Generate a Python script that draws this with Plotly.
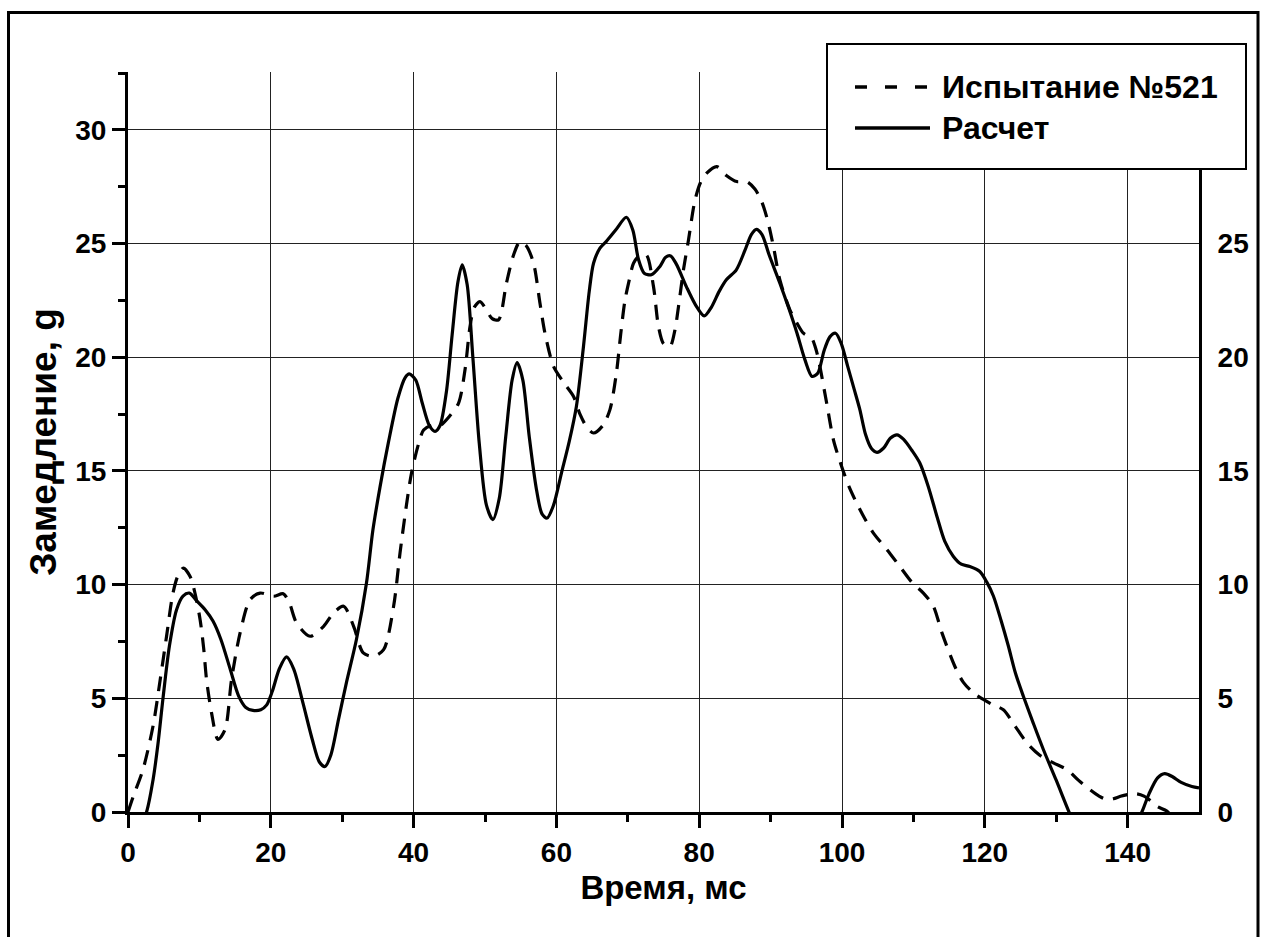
import plotly.graph_objects as go

# ---- data ----
calc_t = [1.0, 2.6, 3.5, 4.2, 4.9, 5.8, 6.8, 7.7, 8.6, 9.6, 10.8, 11.9, 13.0, 14.3, 15.5, 16.5, 17.5, 18.6,
          19.4, 20.2, 21.2, 22.2, 23.2, 24.5, 25.8, 26.8, 27.6, 28.4, 29.5, 30.6, 32.0, 33.4, 34.3, 35.3,
          36.5, 37.8, 38.8, 39.4, 40.3, 41.2, 42.2, 43.0, 43.7, 44.6, 45.4, 46.2, 46.8, 47.5, 48.3, 49.2,
          50.2, 51.1, 52.0, 52.9, 53.8, 54.5, 55.3, 56.2, 57.2, 58.0, 58.7, 59.6, 60.7, 61.8, 62.8, 63.8,
          64.6, 65.2, 66.1, 67.0, 68.3, 69.8, 70.7, 71.5, 72.3, 73.3, 74.5, 75.3, 76.0, 76.8, 78.2, 79.5,
          80.7, 81.7, 82.8, 83.8, 85.2, 86.4, 87.3, 88.0, 88.8, 89.8, 91.3, 92.5, 93.7, 94.8, 95.8, 96.6,
          97.5, 98.3, 99.1, 99.9, 100.8, 101.7, 102.5, 103.3, 104.1, 104.9, 105.8, 106.8, 107.7, 108.6,
          109.8, 110.9, 112.1, 113.3, 114.4, 115.6, 116.7, 117.9, 119.3, 120.3, 121.2, 122.3, 123.3,
          124.3, 125.4, 126.8, 128.2, 130.0, 131.8, 133.5, 136.0, 139.0, 141.0, 142.0, 143.0, 144.2,
          145.2, 146.3, 147.5, 149.0, 150.0]
calc_g = [-1.2, 0.0, 1.4, 3.0, 5.0, 7.3, 8.9, 9.5, 9.63, 9.3, 8.9, 8.4, 7.6, 6.3, 5.1, 4.6, 4.47, 4.5,
          4.7, 5.3, 6.3, 6.82, 6.3, 4.8, 3.2, 2.2, 2.0, 2.5, 4.1, 5.7, 7.6, 10.07, 12.4, 14.3,
          16.3, 18.2, 19.1, 19.27, 19.0, 18.0, 17.0, 16.74, 17.0, 18.5, 21.0, 23.3, 24.07, 23.2, 20.0, 16.2,
          13.5, 12.86, 13.8, 16.5, 19.0, 19.77, 19.0, 16.5, 14.2, 13.1, 12.93, 13.5, 14.9, 16.3, 17.84, 20.5,
          22.9, 24.14, 24.8, 25.1, 25.6, 26.16, 25.6, 24.3, 23.7, 23.63, 24.0, 24.4, 24.46, 24.1, 23.11, 22.3,
          21.82, 22.2, 22.9, 23.41, 23.85, 24.7, 25.4, 25.63, 25.4, 24.5, 23.26, 22.2, 21.06, 19.9, 19.16, 19.3,
          20.3, 20.9, 21.06, 20.6, 19.6, 18.6, 17.7, 16.6, 16.0, 15.82, 16.0, 16.45, 16.59, 16.4,
          15.9, 15.35, 14.3, 13.0, 11.9, 11.24, 10.9, 10.8, 10.58, 10.1, 9.5, 8.4, 7.3,
          6.1, 5.09, 3.9, 2.75, 1.4, 0.0, -1.2, -2.0, -1.5, -0.6, 0.0, 0.8, 1.5,
          1.69, 1.55, 1.3, 1.12, 1.06]

test_t = [0.0, 0.75, 2.1, 3.5, 4.5, 5.4, 6.3, 7.0, 7.75, 8.7, 9.4, 10.1, 10.6, 11.0, 11.7, 12.6, 13.6,
          14.5, 15.7, 17.1, 18.5, 20.4, 21.75, 22.6, 23.6, 25.5, 27.4, 28.8, 30.2, 31.6, 32.95, 34.4,
          35.8, 37.2, 38.1, 39.0, 39.7, 40.7, 41.4, 42.5, 43.7, 45.0, 46.3, 47.2, 47.9, 48.5, 49.3, 50.2,
          51.0, 51.9, 53.0, 54.0, 54.9, 55.8, 56.8, 57.7, 58.4, 59.6, 61.0, 62.4, 63.3, 64.2, 65.2, 66.5,
          67.5, 68.4, 69.0, 69.6, 70.2, 70.8, 71.7, 72.6, 73.6, 74.3, 75.0, 75.9, 76.6, 77.1, 77.8, 78.5,
          79.4, 80.2, 81.05, 82.45, 83.8, 85.25, 86.65, 87.8, 88.75, 89.6, 90.4, 91.3, 92.7, 93.7, 94.6,
          95.75, 96.4, 96.9, 97.85, 98.8, 99.95, 101.0, 102.05, 103.2, 104.4, 106.3, 108.1, 109.8, 111.4,
          112.8, 114.0, 115.8, 117.0, 118.4, 119.8, 121.2, 122.6, 124.2, 125.9, 127.7, 129.6, 131.5, 133.1,
          134.7, 136.0, 137.1, 138.0, 139.0, 140.2, 141.3, 142.3, 143.2, 144.1, 145.5, 146.5, 148.0, 150.0]
test_g = [0.0, 0.7, 1.87, 3.77, 5.8, 7.73, 9.63, 10.4, 10.73, 10.36, 9.6, 8.46, 7.2, 5.82, 4.36, 3.19, 3.63,
          5.82, 7.88, 9.34, 9.63, 9.49, 9.6, 9.2, 8.32, 7.73, 8.17, 8.76, 9.05, 8.17, 7.0, 6.85,
          7.14, 9.05, 11.4, 13.5, 14.9, 16.2, 16.8, 17.0, 17.0, 17.4, 17.99, 19.45, 21.35, 22.2, 22.45, 22.09,
          21.7, 21.65, 23.26, 24.5, 25.09, 24.9, 24.14, 22.38, 21.06, 19.6, 18.9, 18.28, 17.5, 16.96, 16.67, 17.0,
          17.7, 19.3, 21.0, 22.5, 23.4, 24.14, 24.5, 24.5, 23.11, 21.35, 20.6, 20.47, 21.2, 22.23, 23.85, 25.16,
          26.9, 27.7, 28.1, 28.39, 28.0, 27.73, 27.73, 27.4, 26.85, 26.0, 24.87, 23.4, 22.09, 21.5, 21.06,
          20.84, 20.3, 19.6, 17.99, 16.37, 15.2, 14.3, 13.59, 12.9, 12.27, 11.54, 10.8, 10.1, 9.63,
          9.05, 7.88, 6.41, 5.7, 5.24, 4.95, 4.7, 4.5, 3.8, 3.04, 2.5, 2.16, 1.87, 1.4,
          0.99, 0.7, 0.55, 0.58, 0.69, 0.78, 0.8, 0.7, 0.5, 0.25, 0.04, -0.3, -0.7, -1.0]

x_ticks = [0, 20, 40, 60, 80, 100, 120, 140]
y_ticks = [0, 5, 10, 15, 20, 25, 30]
y_ticks_right = [0, 5, 10, 15, 20, 25]
name_test = "Испытание №521"
name_calc = "Расчет"
x_title = "Время, мс"
y_title = "Замедление, g"

FONT = "Liberation Sans, Arial, sans-serif"
W, H = 1267, 937
L, R, T, B = 128, 68, 72, 124.5
pw, ph = W - L - R, H - T - B


def px(x):
    return (x - L) / pw


def py(y):
    return (H - B - y) / ph


fig = go.Figure()
fig.add_trace(go.Scatter(x=test_t, y=test_g, mode="lines", name=name_test, showlegend=False,
                         line=dict(color="black", width=3.2, dash="15px,10px", shape="spline", smoothing=0.8)))
fig.add_trace(go.Scatter(x=calc_t, y=calc_g, mode="lines", name=name_calc, showlegend=False,
                         line=dict(color="black", width=3.2, shape="spline", smoothing=0.8)))
fig.add_trace(go.Scatter(x=[], y=[], yaxis="y2", showlegend=False, hoverinfo="skip"))

tickfont = dict(family=FONT, size=28, color="black", weight="bold")

fig.update_layout(
    width=W, height=H,
    margin=dict(l=L, r=R, t=T, b=B, pad=0),
    paper_bgcolor="white", plot_bgcolor="white",
    showlegend=False,
    xaxis=dict(range=[0, 150], tickvals=x_ticks, showline=True, linewidth=3, linecolor="black",
               ticks="outside", ticklen=13, tickwidth=3, tickcolor="black",
               minor=dict(tickvals=[10, 30, 50, 70, 90, 110, 130], ticks="outside", ticklen=7,
                          tickwidth=3, tickcolor="black", showgrid=False),
               showgrid=True, gridcolor="#222", gridwidth=1.3, zeroline=False,
               tickfont=tickfont,
               title=dict(text=x_title, font=dict(family=FONT, size=33, color="black", weight="bold"),
                          standoff=10)),
    yaxis=dict(range=[0, 32.55], tickvals=y_ticks, showline=True, linewidth=3, linecolor="black",
               ticks="outside", ticklen=13, tickwidth=3, tickcolor="black",
               minor=dict(tickvals=[2.5, 7.5, 12.5, 17.5, 22.5, 27.5, 32.5], ticks="outside", ticklen=7,
                          tickwidth=3, tickcolor="black", showgrid=False),
               showgrid=True, gridcolor="#222", gridwidth=1.3, zeroline=False,
               tickfont=tickfont,
               title=dict(text=y_title, font=dict(family=FONT, size=37, color="black", weight="bold"),
                          standoff=8)),
    yaxis2=dict(range=[0, 32.55], overlaying="y", side="right", tickvals=y_ticks_right,
                showline=True, linewidth=3, linecolor="black", ticks="", showgrid=False,
                zeroline=False, tickfont=tickfont, ticklabelstandoff=10),
)

# outer frame
fig.add_shape(type="rect", xref="paper", yref="paper", x0=px(8.5), x1=px(1258), y0=py(950), y1=py(12.5),
              line=dict(color="black", width=3), fillcolor="rgba(0,0,0,0)", layer="above")
# legend box
fig.add_shape(type="rect", xref="paper", yref="paper", x0=px(827), x1=px(1246), y0=py(169), y1=py(44),
              line=dict(color="black", width=2), fillcolor="white", layer="above")
fig.add_shape(type="line", xref="paper", yref="paper", x0=px(855), x1=px(929), y0=py(87), y1=py(87),
              line=dict(color="black", width=3.5, dash="12px,18px"), layer="above")
fig.add_shape(type="line", xref="paper", yref="paper", x0=px(855), x1=px(930), y0=py(128), y1=py(128),
              line=dict(color="black", width=3.5), layer="above")
legfont = dict(family=FONT, size=32, color="black", weight="bold")
fig.add_annotation(xref="paper", yref="paper", x=px(940), y=py(87), text=name_test, showarrow=False,
                   xanchor="left", yanchor="middle", font=legfont)
fig.add_annotation(xref="paper", yref="paper", x=px(940), y=py(128), text=name_calc, showarrow=False,
                   xanchor="left", yanchor="middle", font=legfont)

fig.write_html("out.html")
